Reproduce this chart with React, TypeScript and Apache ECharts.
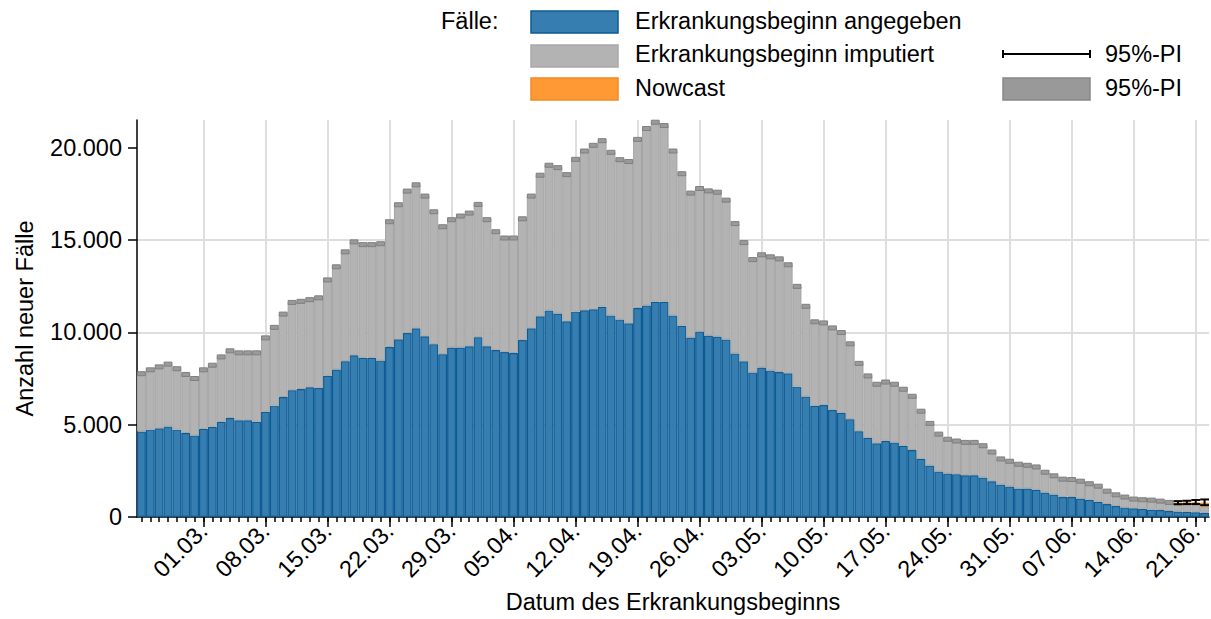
import React, { useEffect, useRef } from "react";
import * as echarts from "echarts";

const FONT = '"Liberation Sans", Arial, Helvetica, sans-serif';
const FS = 23.5;

// Days of disease onset (2020)
const categories = [
  "23.02.", "24.02.", "25.02.", "26.02.", "27.02.", "28.02.", "29.02.",
  "01.03.", "02.03.", "03.03.", "04.03.", "05.03.", "06.03.", "07.03.", "08.03.", "09.03.", "10.03.",
  "11.03.", "12.03.", "13.03.", "14.03.", "15.03.", "16.03.", "17.03.", "18.03.", "19.03.", "20.03.",
  "21.03.", "22.03.", "23.03.", "24.03.", "25.03.", "26.03.", "27.03.", "28.03.", "29.03.", "30.03.", "31.03.",
  "01.04.", "02.04.", "03.04.", "04.04.", "05.04.", "06.04.", "07.04.", "08.04.", "09.04.", "10.04.",
  "11.04.", "12.04.", "13.04.", "14.04.", "15.04.", "16.04.", "17.04.", "18.04.", "19.04.", "20.04.",
  "21.04.", "22.04.", "23.04.", "24.04.", "25.04.", "26.04.", "27.04.", "28.04.", "29.04.", "30.04.",
  "01.05.", "02.05.", "03.05.", "04.05.", "05.05.", "06.05.", "07.05.", "08.05.", "09.05.", "10.05.",
  "11.05.", "12.05.", "13.05.", "14.05.", "15.05.", "16.05.", "17.05.", "18.05.", "19.05.", "20.05.",
  "21.05.", "22.05.", "23.05.", "24.05.", "25.05.", "26.05.", "27.05.", "28.05.", "29.05.", "30.05.", "31.05.",
  "01.06.", "02.06.", "03.06.", "04.06.", "05.06.", "06.06.", "07.06.", "08.06.", "09.06.", "10.06.",
  "11.06.", "12.06.", "13.06.", "14.06.", "15.06.", "16.06.", "17.06.", "18.06.", "19.06.", "20.06.",
  "21.06.", "22.06.",
];

const tickLabels = [
  "01.03.", "08.03.", "15.03.", "22.03.", "29.03.", "05.04.", "12.04.", "19.04.", "26.04.",
  "03.05.", "10.05.", "17.05.", "24.05.", "31.05.", "07.06.", "14.06.", "21.06.",
];

const yTicks = [0, 5000, 10000, 15000, 20000];

// Erkrankungsbeginn angegeben
const reported = [
  4630, 4730, 4800, 4900, 4730, 4550, 4410, 4770, 4880, 5150,
  5360, 5240, 5240, 5160, 5700, 6030, 6500, 6870, 6930, 7030,
  6980, 7650, 7990, 8440, 8760, 8620, 8620, 8470, 9210, 9620,
  9960, 10220, 9790, 9360, 8820, 9180, 9180, 9250, 9740, 9250,
  9040, 8930, 8880, 9580, 10220, 10870, 11180, 11020, 10600, 11120,
  11200, 11250, 11390, 10910, 10690, 10490, 11320, 11460, 11660, 11660,
  10910, 10360, 9720, 10040, 9830, 9775, 9610, 8860, 8430, 7820,
  8100, 7940, 7850, 7780, 7060, 6520, 6020, 6060, 5790, 5640,
  5300, 4650, 4290, 3990, 4130, 4030, 3850, 3630, 3150, 2790,
  2460, 2350, 2320, 2265, 2265, 2140, 1940, 1760, 1650, 1545,
  1545, 1470, 1330, 1220, 1080, 1080, 1005, 935, 825, 700,
  590, 520, 470, 450, 395, 375, 325, 300, 280, 260,
  220,
];

// Erkrankungsbeginn imputiert
const imputed = [
  3130, 3240, 3330, 3380, 3300, 3170, 3090, 3200, 3340, 3520,
  3640, 3650, 3650, 3730, 4000, 4240, 4490, 4750, 4750, 4740,
  4890, 5190, 5560, 5920, 6140, 6130, 6130, 6330, 6780, 7290,
  7690, 7770, 7590, 7170, 6900, 6920, 7120, 7210, 7190, 6850,
  6410, 6180, 6230, 6570, 7160, 7640, 7870, 7900, 7940, 8250,
  8620, 8880, 8990, 8840, 8660, 8760, 9130, 9580, 9720, 9540,
  8910, 8230, 7820, 7750, 7830, 7815, 7550, 7030, 6430, 6120,
  6100, 6150, 6130, 5880, 5430, 4890, 4550, 4450, 4450, 4350,
  4080, 3670, 3350, 3200, 3180, 3160, 3070, 2910, 2580, 2280,
  2030, 1860, 1795, 1775, 1775, 1720, 1580, 1385, 1370, 1315,
  1255, 1240, 1095, 1010, 970, 950, 935, 865, 845, 700,
  610, 560, 500, 485, 520, 485, 465, 400, 400, 380,
  340,
];

// Nowcast (last days)
const nowcastDates = ["19.06.", "20.06.", "21.06.", "22.06."];
const nowcastExtra = [70, 110, 150, 220];
const nowcastPiLow = [690, 700, 700, 640];
const nowcastPiHigh = [860, 880, 920, 950];

const C_BLUE = "#377eb0";
const C_BLUE_B = "#0d5b94";
const C_GRAY = "#b3b3b3";
const C_GRAY_B = "#a4a4a4";
const C_ORANGE = "#ff9933";
const C_ORANGE_B = "#f08a24";
const C_CAP = "#9a9a9a";
const C_CAP_B = "#7f7f7f";
const C_GRID = "#dedede";

const fmt = (v: number) => String(v).replace(/\B(?=(\d{3})+(?!\d))/g, ".");

function buildOption() {
  const isTick = (_i: number, v: string) => tickLabels.includes(v);
  const nowcastData = categories.map((c) => {
    const k = nowcastDates.indexOf(c);
    return k >= 0 ? nowcastExtra[k] : "-";
  });
  const capData: number[][] = [];
  categories.forEach((c, i) => {
    if (nowcastDates.indexOf(c) < 0) capData.push([i, reported[i] + imputed[i]]);
  });
  const errData = nowcastDates.map((d, k) => [categories.indexOf(d), nowcastPiLow[k], nowcastPiHigh[k]]);

  const txt = (text: string, x: number, y: number) => ({
    type: "text",
    x,
    y,
    style: { text, fontSize: FS, fontFamily: FONT, fill: "#000", align: "left", verticalAlign: "middle" },
  });
  const box = (x: number, y: number, fill: string, stroke: string) => ({
    type: "rect",
    shape: { x, y, width: 87, height: 22 },
    style: { fill, stroke, lineWidth: 1.5 },
  });

  return {
    animation: false,
    backgroundColor: "#fff",
    textStyle: { fontFamily: FONT },
    grid: { left: 137, right: 2, top: 120, bottom: 100, containLabel: false },
    xAxis: [
      {
        type: "category",
        data: categories,
        position: "bottom",
        boundaryGap: true,
        axisLine: { show: true, onZero: false, lineStyle: { color: "#000", width: 1.5 } },
        axisTick: { show: true, alignWithLabel: true, interval: 0, length: 5, lineStyle: { color: "#000", width: 1.5 } },
        axisLabel: { show: false },
        splitLine: { show: true, alignWithLabel: true, interval: isTick, lineStyle: { color: C_GRID, width: 2 } },
        name: "Datum des Erkrankungsbeginns",
        nameLocation: "middle",
        nameGap: 73,
        nameTextStyle: { fontSize: FS, color: "#000", fontFamily: FONT },
      },
      {
        type: "category",
        data: categories,
        position: "bottom",
        boundaryGap: true,
        axisLine: { show: false, onZero: false },
        axisTick: { show: true, alignWithLabel: true, interval: isTick, length: 10, lineStyle: { color: "#000", width: 1.5 } },
        axisLabel: { show: true, interval: isTick, rotate: 45, margin: 10, fontSize: FS, color: "#000", fontFamily: FONT },
        splitLine: { show: false },
      },
    ],
    yAxis: {
      type: "value",
      min: 0,
      max: 21500,
      interval: 5000,
      axisLine: { show: true, lineStyle: { color: "#000", width: 1.5 } },
      axisTick: { show: true, customValues: yTicks, length: 9, lineStyle: { color: "#000", width: 1.5 } },
      axisLabel: { show: true, customValues: yTicks, formatter: fmt, margin: 15, fontSize: FS, color: "#000", fontFamily: FONT },
      splitLine: { show: true, showMaxLine: false, showMinLine: false, lineStyle: { color: C_GRID, width: 2 } },
      name: "Anzahl neuer Fälle",
      nameLocation: "middle",
      nameGap: 100,
      nameTextStyle: { fontSize: FS, color: "#000", fontFamily: FONT },
    },
    series: [
      {
        name: "Erkrankungsbeginn angegeben",
        type: "bar",
        stack: "total",
        xAxisIndex: 0,
        barCategoryGap: "0%",
        data: reported,
        itemStyle: { color: C_BLUE, borderColor: C_BLUE_B, borderWidth: 1.2 },
      },
      {
        name: "Erkrankungsbeginn imputiert",
        type: "bar",
        stack: "total",
        xAxisIndex: 0,
        barCategoryGap: "0%",
        data: imputed,
        itemStyle: { color: C_GRAY, borderColor: C_GRAY_B, borderWidth: 1 },
      },
      {
        name: "Nowcast",
        type: "bar",
        stack: "total",
        xAxisIndex: 0,
        barCategoryGap: "0%",
        data: nowcastData,
        itemStyle: { color: C_ORANGE, borderColor: C_ORANGE_B, borderWidth: 1 },
      },
      {
        name: "95%-PI imputiert",
        type: "custom",
        xAxisIndex: 0,
        z: 4,
        data: capData,
        encode: { x: 0, y: 1 },
        renderItem: (_p: any, api: any) => {
          const c = api.coord([api.value(0), api.value(1)]);
          const w = api.size([1, 0])[0];
          return {
            type: "rect",
            shape: { x: c[0] - w / 2 + 0.5, y: c[1] - 2, width: w - 1, height: 4 },
            style: { fill: C_CAP, stroke: C_CAP_B, lineWidth: 1 },
          };
        },
      },
      {
        name: "95%-PI Nowcast",
        type: "custom",
        xAxisIndex: 0,
        z: 5,
        data: errData,
        encode: { x: 0, y: [1, 2] },
        renderItem: (_p: any, api: any) => {
          const x = api.value(0);
          const lo = api.coord([x, api.value(1)]);
          const hi = api.coord([x, api.value(2)]);
          const h = api.size([1, 0])[0] / 2;
          const st = { stroke: "#000", lineWidth: 2 };
          return {
            type: "group",
            children: [
              { type: "line", shape: { x1: lo[0], y1: lo[1], x2: hi[0], y2: hi[1] }, style: st },
              { type: "line", shape: { x1: lo[0] - h, y1: lo[1], x2: lo[0] + h, y2: lo[1] }, style: st },
              { type: "line", shape: { x1: hi[0] - h, y1: hi[1], x2: hi[0] + h, y2: hi[1] }, style: st },
            ],
          };
        },
      },
    ],
    graphic: [
      txt("Fälle:", 441, 21),
      box(531, 11, C_BLUE, C_BLUE_B),
      txt("Erkrankungsbeginn angegeben", 635, 21),
      box(531, 45, C_GRAY, "#a9a9a9"),
      txt("Erkrankungsbeginn imputiert", 635, 54),
      box(531, 78, C_ORANGE, C_ORANGE_B),
      txt("Nowcast", 635, 88),
      { type: "line", shape: { x1: 1003, y1: 54, x2: 1090, y2: 54 }, style: { stroke: "#000", lineWidth: 2 } },
      { type: "line", shape: { x1: 1003, y1: 50, x2: 1003, y2: 58 }, style: { stroke: "#000", lineWidth: 2 } },
      { type: "line", shape: { x1: 1090, y1: 50, x2: 1090, y2: 58 }, style: { stroke: "#000", lineWidth: 2 } },
      txt("95%-PI", 1105, 54),
      box(1003, 78, "#999999", "#888888"),
      txt("95%-PI", 1105, 88),
    ],
  };
}

export default function App() {
  const ref = useRef<HTMLDivElement>(null);
  useEffect(() => {
    document.body.style.margin = "0";
    const chart = echarts.init(ref.current as HTMLDivElement, undefined, { renderer: "svg" });
    chart.setOption(buildOption() as any);
    return () => chart.dispose();
  }, []);
  return <div ref={ref} style={{ width: 1211, height: 619 }} />;
}
